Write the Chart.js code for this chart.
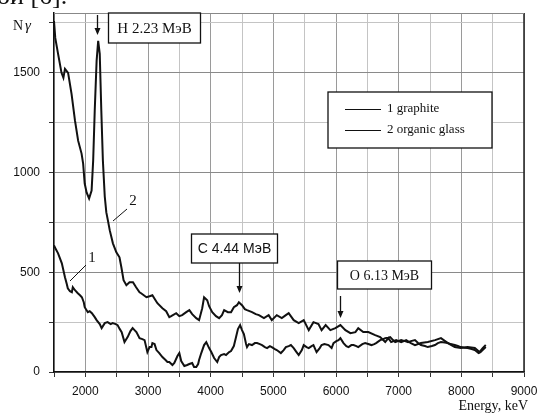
<!DOCTYPE html>
<html>
<head>
<meta charset="utf-8">
<script src="https://cdn.jsdelivr.net/npm/chart.js@4/dist/chart.umd.min.js"></script>
<style>
  html, body { margin: 0; padding: 0; background: #fff; }
  #wrap { width: 541px; height: 417px; position: relative; }
</style>
</head>
<body>
<div id="wrap"><canvas id="spectrum"></canvas></div>
<script>
// energies in keV, counts N-gamma
let energyGraphite = [
  1500, 1530, 1565, 1595, 1625, 1675, 1705, 1720, 1755, 1785, 1800, 1835, 1880, 1915, 1945, 1975,
  1990, 2040, 2070, 2105, 2150, 2180, 2230, 2260, 2310, 2355, 2405, 2435, 2485, 2515, 2550, 2580,
  2625, 2675, 2720, 2755, 2785, 2815, 2865, 2910, 2945, 2990, 3025, 3055, 3070, 3105, 3135, 3180,
  3230, 3280, 3310, 3340, 3390, 3420, 3470, 3500, 3530, 3580, 3625, 3660, 3705, 3735, 3770, 3800,
  3815, 3850, 3895, 3930, 3975, 4010, 4055, 4105, 4135, 4165, 4215, 4245, 4295, 4325, 4370, 4405,
  4435, 4470, 4500, 4530, 4565, 4580, 4610, 4660, 4705, 4740, 4785, 4820, 4865, 4900, 4945, 4975,
  5025, 5055, 5120, 5165, 5200, 5245, 5280, 5325, 5370, 5405, 5455, 5485, 5530, 5565, 5610, 5640,
  5690, 5740, 5770, 5815, 5880, 5930, 5960, 6005, 6040, 6070, 6120, 6165, 6200, 6245, 6280, 6325,
  6355, 6420, 6465, 6515, 6565, 6610, 6640, 6705, 6755, 6785, 6835, 6865, 6910, 6945, 6990, 7040,
  7100, 7150, 7195, 7260, 7310, 7355, 7420, 7465, 7530, 7580, 7625, 7675, 7735, 7785, 7830, 7895,
  7945, 7990, 8055, 8100, 8165, 8215, 8275, 8305, 8340, 8390
];
let countsGraphite = [
  635, 615, 595, 570, 545, 475, 440, 420, 405, 400, 425, 410, 395, 385, 375, 350,
  325, 300, 305, 295, 275, 260, 240, 220, 245, 250, 240, 245, 240, 235, 215, 200,
  150, 175, 205, 220, 210, 200, 170, 165, 160, 100, 125, 125, 145, 140, 110, 95,
  75, 60, 50, 50, 35, 45, 80, 95, 55, 30, 35, 40, 45, 25, 25, 40,
  60, 95, 135, 150, 120, 100, 70, 50, 75, 85, 90, 85, 100, 105, 130, 175,
  215, 235, 210, 190, 140, 125, 140, 135, 145, 145, 140, 135, 125, 120, 130, 125,
  115, 110, 95, 110, 125, 130, 135, 120, 100, 85, 110, 135, 125, 120, 130, 135,
  100, 120, 135, 140, 135, 120, 145, 155, 160, 170, 145, 130, 125, 135, 135, 130,
  125, 140, 145, 140, 135, 140, 145, 160, 165, 170, 172, 175, 160, 150, 155, 160,
  155, 150, 155, 160, 145, 135, 130, 125, 130, 135, 145, 150, 148, 145, 140, 135,
  130, 125, 122, 120, 115, 110, 95, 100, 110, 125
];

let energyGlass = [
  1500, 1520, 1565, 1620, 1650, 1675, 1725, 1780, 1835, 1885, 1940, 1965, 1990, 2020, 2060, 2100,
  2125, 2150, 2180, 2205, 2230, 2255, 2280, 2310, 2335, 2360, 2390, 2440, 2495, 2545, 2575, 2610,
  2655, 2705, 2760, 2810, 2865, 2890, 2975, 3025, 3070, 3120, 3150, 3230, 3290, 3340, 3370, 3450,
  3500, 3545, 3610, 3660, 3705, 3770, 3815, 3865, 3895, 3945, 3975, 4025, 4085, 4135, 4180, 4215,
  4275, 4325, 4370, 4420, 4450, 4500, 4545, 4580, 4660, 4720, 4770, 4850, 4925, 4975, 5055, 5135,
  5200, 5245, 5325, 5405, 5485, 5565, 5640, 5720, 5770, 5835, 5910, 5990, 6070, 6150, 6230, 6310,
  6355, 6435, 6515, 6625, 6705, 6785, 6835, 6880, 6960, 7040, 7120, 7195, 7260, 7355, 7465, 7580,
  7675, 7785, 7895, 7990, 8100, 8215, 8290, 8340, 8390
];
let countsGlass = [
  1760, 1675, 1595, 1500, 1475, 1520, 1500, 1395, 1260, 1160, 1095, 1045, 945, 900, 870, 910,
  1060, 1310, 1560, 1660, 1595, 1310, 1060, 880, 800, 760, 710, 645, 600, 575, 525, 460,
  435, 450, 450, 425, 400, 395, 375, 380, 385, 360, 345, 320, 305, 275, 280, 295,
  280, 285, 300, 310, 290, 270, 260, 320, 375, 360, 330, 300, 280, 270, 285, 310,
  300, 300, 325, 335, 350, 335, 315, 310, 300, 290, 285, 270, 285, 260, 285, 270,
  285, 295, 260, 245, 260, 210, 250, 240, 210, 235, 210, 220, 235, 210, 195, 200,
  220, 200, 200, 185, 175, 150, 170, 150, 160, 150, 160, 145, 135, 145, 150, 160,
  170, 145, 125, 120, 125, 120, 100, 120, 135
];

let seriesNames = ["1 graphite", "2 organic glass"];
let peakLabels = ["H 2.23 МэВ", "C 4.44 МэВ", "O 6.13 МэВ"];
let peakEnergies = [2190, 4450, 6070];
let xTicks = [2000, 3000, 4000, 5000, 6000, 7000, 8000, 9000];
let yTicks = [0, 500, 1000, 1500];

function toPoints(xs, ys) {
  return xs.map((x, i) => ({ x: x, y: ys[i] }));
}

let serif = "'Liberation Serif', 'DejaVu Serif', serif";
let sans = "'Liberation Sans', Arial, sans-serif";

// annotations, legend box and stray page text
let extras = {
  id: "extras",
  afterDraw(chart) {
    let ctx = chart.ctx;
    let xs = chart.scales.x;
    let area = chart.chartArea;
    ctx.save();

    // right border + faint top border
    ctx.strokeStyle = "#222";
    ctx.lineWidth = 1.5;
    ctx.beginPath();
    ctx.moveTo(area.right, area.top);
    ctx.lineTo(area.right, area.bottom);
    ctx.stroke();
    ctx.strokeStyle = "#888";
    ctx.lineWidth = 1;
    ctx.beginPath();
    ctx.moveTo(area.left, area.top + 0.5);
    ctx.lineTo(area.right, area.top + 0.5);
    ctx.stroke();

    // clipped line of page text above the figure
    ctx.fillStyle = "#111";
    ctx.font = "26px " + serif;
    ctx.textBaseline = "alphabetic";
    ctx.textAlign = "left";
    ctx.fillText("ой [6].", -3, 4);

    // axis titles
    ctx.font = "14px " + serif;
    ctx.fillText("N", 13, 30);
    ctx.font = "italic 15px " + serif;
    ctx.fillText("γ", 25, 30);
    ctx.font = "14px " + serif;
    ctx.textAlign = "right";
    ctx.fillText("Energy, keV", 528, 410);

    // peak boxes with arrows
    let boxes = [
      { dx: 11, top: 13, w: 92, h: 30, font: "15px " + serif, arrowTop: 15, arrowBot: 35 },
      { dx: -48, top: 234, w: 86, h: 29, font: "14px " + sans, arrowTop: 263, arrowBot: 293 },
      { dx: -3, top: 261, w: 94, h: 28, font: "14px " + serif, arrowTop: 296, arrowBot: 318 },
    ];
    peakLabels.forEach((label, i) => {
      let b = boxes[i];
      let px = Math.round(xs.getPixelForValue(peakEnergies[i])) + 0.5;
      let left = px + b.dx;
      ctx.fillStyle = "#fff";
      ctx.fillRect(left, b.top, b.w, b.h);
      ctx.strokeStyle = "#111";
      ctx.lineWidth = 1.3;
      ctx.strokeRect(left, b.top, b.w, b.h);
      ctx.fillStyle = "#111";
      ctx.font = b.font;
      ctx.textAlign = "center";
      ctx.textBaseline = "middle";
      ctx.fillText(label, left + b.w / 2, b.top + b.h / 2 + 1);
      ctx.beginPath();
      ctx.moveTo(px, b.arrowTop);
      ctx.lineTo(px, b.arrowBot - 4);
      ctx.stroke();
      ctx.beginPath();
      ctx.moveTo(px - 3, b.arrowBot - 7);
      ctx.lineTo(px, b.arrowBot);
      ctx.lineTo(px + 3, b.arrowBot - 7);
      ctx.closePath();
      ctx.fill();
    });

    // legend box
    ctx.fillStyle = "#fff";
    ctx.fillRect(328, 92, 164, 56);
    ctx.strokeStyle = "#111";
    ctx.lineWidth = 1.3;
    ctx.strokeRect(328, 92, 164, 56);
    ctx.font = "13px " + serif;
    ctx.textAlign = "left";
    ctx.textBaseline = "middle";
    ctx.fillStyle = "#111";
    seriesNames.forEach((name, i) => {
      let y = 109 + i * 21;
      ctx.lineWidth = 1.2;
      ctx.beginPath();
      ctx.moveTo(345, y + 0.5);
      ctx.lineTo(381, y + 0.5);
      ctx.stroke();
      ctx.fillText(name, 387, y);
    });

    // curve markers
    ctx.font = "15px " + serif;
    ctx.textAlign = "center";
    ctx.fillText("1", 92, 258);
    ctx.fillText("2", 133, 201);
    ctx.lineWidth = 1;
    ctx.beginPath();
    ctx.moveTo(86, 265);
    ctx.lineTo(70, 281);
    ctx.moveTo(127, 209);
    ctx.lineTo(113, 221);
    ctx.stroke();

    ctx.restore();
  },
};

let ctx = document.getElementById("spectrum").getContext("2d");

let chart = new Chart(ctx, {
  type: "scatter",
  data: {
    datasets: [
      {
        label: seriesNames[0],
        data: toPoints(energyGraphite, countsGraphite),
        showLine: true,
        borderColor: "#111",
        borderWidth: 2,
        pointRadius: 0,
        tension: 0,
      },
      {
        label: seriesNames[1],
        data: toPoints(energyGlass, countsGlass),
        showLine: true,
        borderColor: "#111",
        borderWidth: 2,
        pointRadius: 0,
        tension: 0,
      },
    ],
  },
  options: {
    responsive: true,
    maintainAspectRatio: false,
    animation: false,
    layout: {
      padding: { left: 0, top: 13, right: 17, bottom: 0 },
    },
    plugins: {
      legend: { display: false },
      tooltip: { enabled: false },
    },
    scales: {
      x: {
        type: "linear",
        min: 1500,
        max: 9000,
        afterFit: (scale) => {
          scale.height = 45;
          scale.paddingLeft = 0;
          scale.paddingRight = 0;
        },
        border: { color: "#111", width: 1.5 },
        grid: {
          color: (c) => (c.tick && c.tick.value % 1000 === 0 ? "#9a9a9a" : "#c4c4c4"),
          lineWidth: 1,
          tickLength: 5,
          tickColor: "#333",
        },
        ticks: {
          stepSize: 500,
          autoSkip: false,
          maxRotation: 0,
          padding: 7,
          color: "#111",
          font: { family: sans, size: 12 },
          callback: (value) => (xTicks.includes(value) ? value : ""),
        },
      },
      y: {
        min: 0,
        max: 1800,
        afterFit: (scale) => {
          scale.width = 54;
          scale.paddingTop = 0;
          scale.paddingBottom = 0;
        },
        afterBuildTicks: (scale) => {
          scale.ticks = [0, 250, 500, 750, 1000, 1250, 1500, 1750].map((v) => ({ value: v }));
        },
        border: { color: "#111", width: 1.5 },
        grid: {
          color: (c) => (c.tick && c.tick.value % 500 === 0 ? "#8a8a8a" : "#c4c4c4"),
          lineWidth: 1,
          tickLength: 5,
          tickColor: "#333",
        },
        ticks: {
          autoSkip: false,
          padding: 9,
          color: "#111",
          font: { family: sans, size: 12 },
          callback: (value) => (yTicks.includes(value) ? value : ""),
        },
      },
    },
  },
  plugins: [extras],
});
</script>
</body>
</html>
